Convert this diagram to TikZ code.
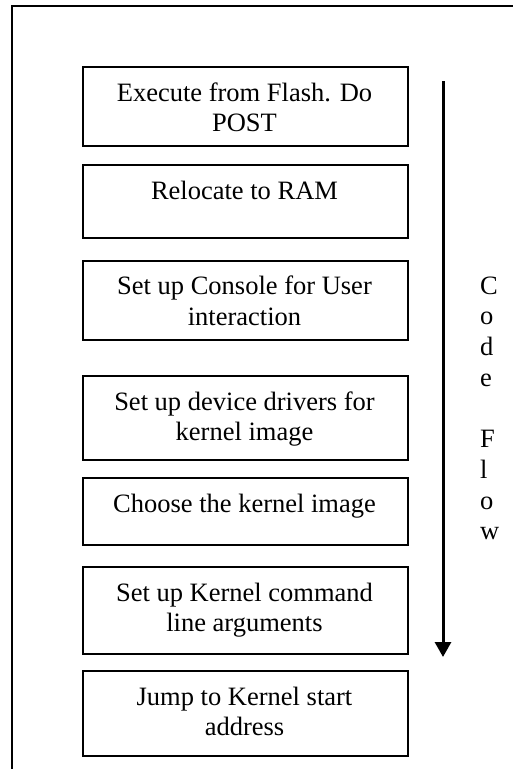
\documentclass[tikz,border=0pt]{standalone}
\usepackage{fontspec}
\setmainfont{Liberation Serif}
\usetikzlibrary{arrows.meta}

\tikzset{
  stepbox/.style={draw=black, line width=1.8pt, rectangle, inner sep=0pt,
    minimum width=325pt, anchor=north west},
  steptext/.style={font=\fontsize{26.5}{30.7}\selectfont, align=center,
    inner sep=0pt, anchor=north},
  flowtext/.style={font=\fontsize{26.5}{30.7}\selectfont, align=left,
    inner sep=0pt, anchor=north west},
  frame/.style={draw=black, line width=1.8pt},
  flowarrow/.style={draw=black, line width=3pt,
    -{Triangle[width=16pt,length=15pt]}}
}

\begin{document}
\begin{tikzpicture}[x=1pt,y=-1pt]
  \useasboundingbox (0,0) rectangle (513,769);
  \clip (0,0) rectangle (513,769);

  % outer frame (runs past the right and bottom edges)
  \draw[frame] (12.3,800) -- (12.3,6) -- (540,6);

  % process steps
  \node[stepbox, minimum height=79pt] (b1) at (82,66) {};
  \node[steptext] (t1) at (244.5,79.5) {\strut Execute from Flash. Do\\POST};

  \node[stepbox, minimum height=73pt] (b2) at (82,164) {};
  \node[steptext] (t2) at (244.5,177.5) {\strut Relocate to RAM};

  \node[stepbox, minimum height=79pt] (b3) at (82,260) {};
  \node[steptext] (t3) at (244.5,273) {\strut Set up Console for User\\interaction};

  \node[stepbox, minimum height=84pt] (b4) at (82,375) {};
  \node[steptext] (t4) at (244.5,388.5) {\strut Set up device drivers for\\kernel image};

  \node[stepbox, minimum height=67pt] (b5) at (82,477) {};
  \node[steptext] (t5) at (244.5,490.5) {\strut Choose the kernel image};

  \node[stepbox, minimum height=87pt] (b6) at (82,566) {};
  \node[steptext] (t6) at (244.5,579.5) {\strut Set up Kernel command\\line arguments};

  \node[stepbox, minimum height=85pt] (b7) at (82,670) {};
  \node[steptext] (t7) at (244.5,683.5) {\strut Jump to Kernel start\\address};

  % code flow arrow and its vertical label
  \coordinate (flowstart) at (443,81);
  \coordinate (flowend) at (443,657);
  \draw[flowarrow] (flowstart) -- (flowend);

  \node[flowtext] (flow) at (480,272.5)
    {\strut C\\o\\d\\e\\[30.7pt]F\\l\\o\\w};
\end{tikzpicture}
\end{document}
